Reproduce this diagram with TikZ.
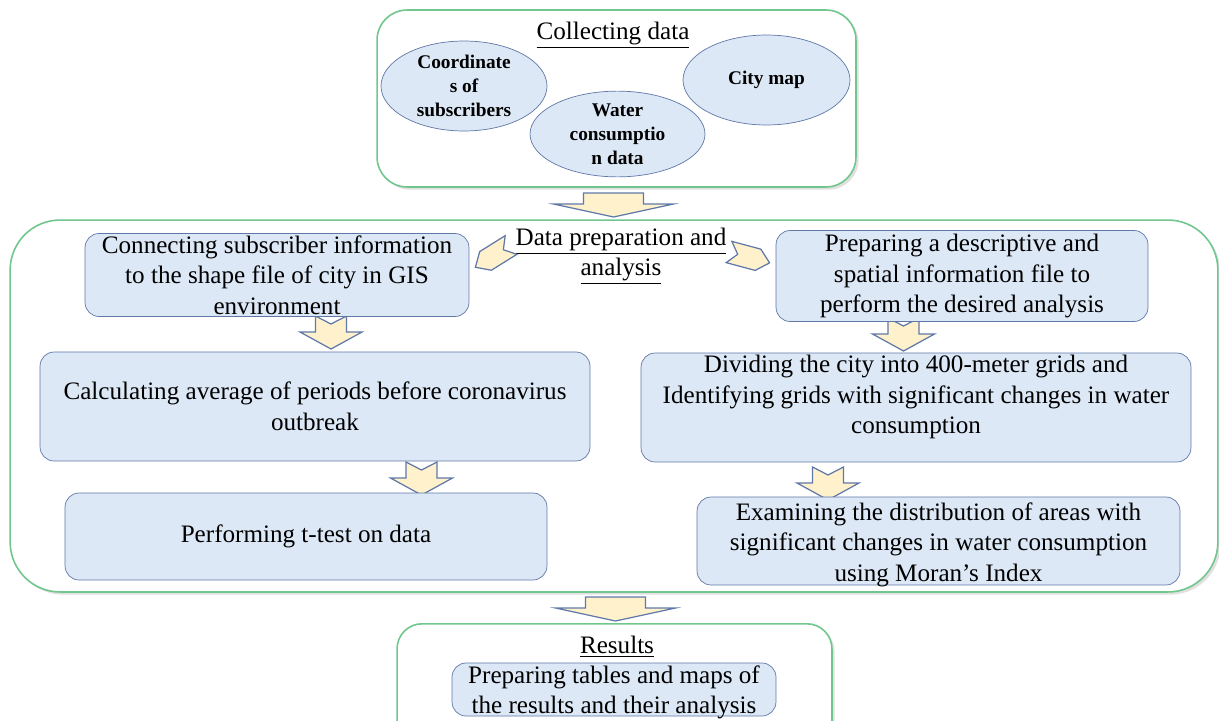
\documentclass[tikz,border=0pt]{standalone}
\usepackage{fontspec}
\setmainfont{Liberation Serif}
\usepackage{tikz}
\usetikzlibrary{shapes.geometric,shadows}

\definecolor{stagegreen}{RGB}{112,198,140}
\definecolor{boxblue}{RGB}{221,232,246}
\definecolor{boxline}{RGB}{96,120,168}
\definecolor{arrowfill}{RGB}{255,241,204}

\begin{document}
\begin{tikzpicture}[x=0.02cm,y=-0.02cm,
		stage/.style={draw=stagegreen,line width=0.9pt,fill=white,rounded corners=#1,
			drop shadow={fill=black,opacity=0.12,shadow xshift=1.5pt,shadow yshift=-1.5pt}},
		task/.style={draw=boxline,fill=boxblue,rounded corners=8pt,align=center,inner sep=0pt,
			font=\fontsize{14.3}{17.4}\selectfont},
		source/.style={ellipse,draw=boxline,fill=boxblue,align=center,inner sep=0pt,
			font=\fontsize{11}{13.6}\selectfont\bfseries},
		heading/.style={align=center,font=\fontsize{14.3}{17}\selectfont},
		fat/.style={draw=boxline,fill=arrowfill,line width=0.7pt,line join=miter}]
			\tikzset{flatarrow/.pic={\draw[fat] (-30,0) -- (30,0) -- (30,11) -- (60,11) -- (0,24) -- (-60,11) -- (-30,11) -- cycle;},
				notcharrow/.pic={\draw[fat] (-15.5,0) -- (0,8) -- (15.5,0) -- (15.5,16) -- (31,16) -- (0,33) -- (-31,16) -- (-15.5,16) -- cycle;},
				chevron/.pic={\draw[fat] (0,-11) -- (30,-11) -- (42,0) -- (30,11) -- (0,11) -- (9,0) -- cycle;}}
			\useasboundingbox (0,0) rectangle (1219,720);
			\clip (0,0) rectangle (1219,720);
			% stages
			\node[stage=0.6cm,minimum width=9.58cm,minimum height=3.54cm] (collect) at (616.5,98.5) {};
			\node[stage=1cm,minimum width=24.16cm,minimum height=7.44cm] (analysis) at (614,406) {};
			\node[stage=0.5cm,minimum width=8.7cm,minimum height=2.6cm,anchor=north] (results) at (614.5,623) {};
			\node[heading] (collecttitle) at (613,35) {\underline{Collecting data}};
			\node[heading] (analysistitle) at (621,256) {\underline{Data preparation and}\\\underline{analysis}};
			\node[heading] (resultstitle) at (617,647) {\underline{Results}};
			% data sources
			\node[source,minimum width=3.32cm,minimum height=1.8cm] (coords) at (464,86) {Coordinate\\s of\\subscribers};
			\node[source,minimum width=3.34cm,minimum height=1.8cm] (citymap) at (766.5,80) {City map};
			\node[source,minimum width=3.5cm,minimum height=1.6cm] (water) at (617.5,134) {Water\\consumptio\\n data};
			% arrows
			\pic at (613.5,193) {flatarrow};
			\pic at (615.5,597) {flatarrow};
			\pic at (331,316) {notcharrow};
			\pic at (903.5,318) {notcharrow};
			\pic at (421.5,462) {notcharrow};
			\pic at (828,467) {notcharrow};
			\pic[rotate=212] at (511,245) {chevron};
			\pic[rotate=-15] at (729,252) {chevron};
			% tasks
			\node[task,minimum width=7.68cm,minimum height=1.66cm] (link) at (277,275) {Connecting subscriber information\\to the shape file of city in GIS\\environment};
			\node[task,minimum width=7.44cm,minimum height=1.82cm] (prepare) at (962,276) {Preparing a descriptive and\\spatial information file to\\perform the desired analysis};
			\node[task,minimum width=11cm,minimum height=2.18cm] (average) at (315,406.5) {Calculating average of periods before coronavirus\\outbreak};
			\node[task,minimum width=11cm,minimum height=2.18cm] (grids) at (916,407.5) {};
			\node[heading,yshift=6pt,font=\fontsize{14.3}{17.4}\selectfont] (gridstext) at (grids) {Dividing the city into 400-meter grids and\\Identifying grids with significant changes in water\\consumption};
			\node[task,minimum width=9.66cm,minimum height=1.76cm] (moran) at (938.5,541) {};
			\node[heading,yshift=-2pt,font=\fontsize{14.3}{17.4}\selectfont] (morantext) at (moran) {Examining the distribution of areas with\\significant changes in water consumption\\using Moran's Index};
			\node[task,minimum width=9.64cm,minimum height=1.74cm] (ttest) at (306,536.5) {Performing t-test on data};
			\node[task,minimum width=6.48cm,minimum height=1.06cm] (tables) at (614,689.5) {};
			\node[heading,yshift=-1.5pt,font=\fontsize{14.3}{17}\selectfont] (tablestext) at (tables) {Preparing tables and maps of\\the results and their analysis};
		\end{tikzpicture}
\end{document}
